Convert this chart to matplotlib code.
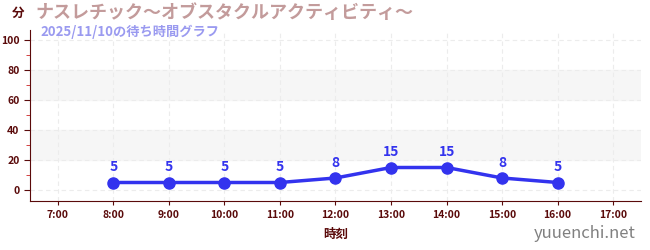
import matplotlib
matplotlib.use("Agg")
import matplotlib.pyplot as plt

plt.rcParams['font.family'] = ['Noto Sans CJK JP', 'DejaVu Sans']

hours = [8, 9, 10, 11, 12, 13, 14, 15, 16]
waits = [5, 5, 5, 5, 8, 15, 15, 8, 5]
tick_hours = list(range(7, 18))
tick_labels = ["%d:00" % h for h in tick_hours]

title = "ナスレチック～オブスタクルアクティビティ～"
subtitle = "2025/11/10の待ち時間グラフ"

axis_col = "#5a0a0a"
line_col = "#3333ee"

fig = plt.figure(figsize=(6.5, 2.5), dpi=100)
ax = fig.add_axes([30/650, 1 - 200.5/250, 611/650, 171/250])

ax.set_xlim(6.5, 17.5)
ax.set_ylim(-7, 107)

# shaded bands
for lo, hi in [(20, 40), (60, 80)]:
    ax.axhspan(lo, hi, color="#f6f6f6", zorder=0)

ax.set_xticks(tick_hours)
ax.set_xticklabels(tick_labels)
ax.set_yticks([0, 20, 40, 60, 80, 100])
ax.set_yticks([10, 30, 50, 70, 90], minor=True)
ax.grid(True, which="major", color="#ececec", linestyle=(0, (4, 3)), linewidth=0.8)
ax.set_axisbelow(True)

ax.plot(hours, waits, color=line_col, lw=2.5, marker="o", ms=8, zorder=3)
for h, w in zip(hours, waits):
    ax.annotate(str(w), (h, w), xytext=(0, 6), textcoords="offset points",
                ha="center", va="bottom", color=line_col, fontsize=10, fontweight="bold")

for s in ["top", "right"]:
    ax.spines[s].set_visible(False)
for s in ["left", "bottom"]:
    ax.spines[s].set_color(axis_col)
ax.tick_params(axis="both", which="major", colors=axis_col, labelsize=7.5, length=4)
ax.tick_params(axis="y", which="minor", colors="#cc2222", length=3)
ax.tick_params(axis="x", length=3)
for lbl in ax.get_xticklabels() + ax.get_yticklabels():
    lbl.set_color(axis_col)
    lbl.set_fontweight("bold")

ax.set_xlabel("時刻", color=axis_col, fontsize=9, fontweight="bold", labelpad=6)

fig.text(12/650, 1 - 13/250, "分", color=axis_col, fontsize=9, fontweight="bold",
         ha="left", va="center")
fig.text(35/650, 1 - 12/250, title, color="#c39b9b", fontsize=13, fontweight="bold",
         ha="left", va="center")
fig.text(40/650, 1 - 32/250, subtitle, color="#9a9af0", fontsize=9.5, fontweight="bold",
         ha="left", va="center")
fig.text(636/650, 1 - 233/250, "yuuenchi.net", color="#808080", fontsize=12,
         ha="right", va="center")

fig.savefig("out.png", dpi=100)
